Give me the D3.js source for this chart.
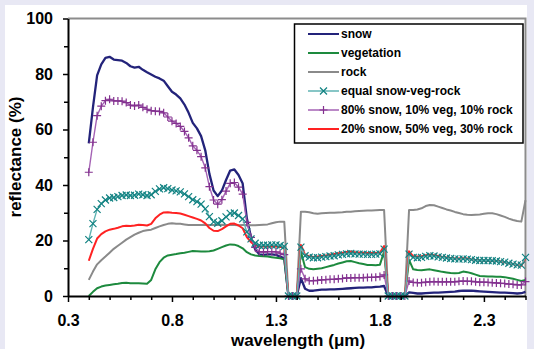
<!DOCTYPE html>
<html>
<head>
<meta charset="utf-8">
<script src="https://cdn.jsdelivr.net/npm/d3@7"></script>
<style>
  body { margin: 0; background: #fff; }
  svg { display: block; font-family: "Liberation Sans", Arial, sans-serif; }
</style>
</head>
<body>
<svg id="chart" width="534" height="349"></svg>
<script>
// wavelength grid (µm)
const wavelength = [
  0.40, 0.42, 0.44, 0.46, 0.48, 0.50, 0.52, 0.54, 0.56, 0.58,
  0.60, 0.62, 0.64, 0.66, 0.68, 0.70, 0.72, 0.74, 0.76, 0.78,
  0.80, 0.82, 0.84, 0.86, 0.88, 0.90, 0.92, 0.94, 0.96, 0.98,
  1.00, 1.02, 1.04, 1.06, 1.08, 1.10, 1.12, 1.14, 1.16, 1.18,
  1.20, 1.22, 1.24, 1.26, 1.28, 1.30, 1.32, 1.34, 1.36, 1.38,
  1.40, 1.42, 1.44, 1.46, 1.48, 1.50, 1.52, 1.54, 1.56, 1.58,
  1.60, 1.62, 1.64, 1.66, 1.68, 1.70, 1.72, 1.74, 1.76, 1.78,
  1.80, 1.82, 1.84, 1.86, 1.88, 1.90, 1.92, 1.94, 1.96, 1.98,
  2.00, 2.02, 2.04, 2.06, 2.08, 2.10, 2.12, 2.14, 2.16, 2.18,
  2.20, 2.22, 2.24, 2.26, 2.28, 2.30, 2.32, 2.34, 2.36, 2.38,
  2.40, 2.42, 2.44, 2.46, 2.48, 2.50
];

const snow = [
  55.0, 68.0, 79.5, 83.5, 85.8, 86.2, 85.2, 85.0, 84.8, 84.0,
  82.8, 82.3, 82.6, 81.5, 80.6, 79.8, 79.0, 78.4, 77.6, 75.6,
  73.6, 72.6, 71.2, 69.0, 66.0, 62.4, 60.4, 57.6, 52.5, 44.0,
  38.0, 36.0, 38.0, 41.8, 45.2, 45.6, 43.6, 40.5, 28.0, 21.2,
  16.8, 15.0, 14.8, 15.0, 15.0, 14.8, 14.2, 13.6, 0, 0,
  0, 6.4, 2.6, 1.9, 1.9, 2.1, 2.3, 2.3, 2.4, 2.4,
  2.5, 2.6, 2.7, 2.8, 2.9, 3.0, 3.0, 3.1, 3.1, 3.3,
  3.4, 3.6, 0, 0, 0, 0, 0, 1.3, 1.1, 0.9,
  0.9, 1.0, 1.1, 1.2, 1.2, 1.3, 1.4, 1.5, 1.6, 1.8,
  1.9, 1.9, 1.9, 1.8, 1.7, 1.6, 1.5, 1.4, 1.3, 1.2,
  1.2, 1.1, 1.0, 0.9, 1.0, 1.5
];

const vegetation = [
  0, 1.5, 2.8, 3.4, 3.8, 4.0, 4.2, 4.4, 4.7, 4.8,
  4.6, 4.6, 4.6, 4.5, 4.4, 5.8, 9.6, 12.2, 13.8, 14.6,
  14.9, 15.1, 15.4, 15.6, 15.9, 16.2, 16.1, 16.0, 16.0, 16.1,
  16.4, 17.0, 17.6, 18.2, 18.6, 18.5, 18.0, 17.2, 15.8, 15.0,
  14.6, 14.4, 14.3, 14.2, 14.0, 13.8, 13.6, 13.2, 0, 0,
  0, 16.0, 10.4, 9.8, 9.6, 9.8, 10.0, 10.4, 10.8, 11.2,
  11.7, 12.1, 12.5, 12.6, 12.2, 11.8, 11.5, 11.2, 11.2, 11.1,
  11.3, 16.0, 0, 0, 0, 0, 0, 13.0, 9.6, 9.4,
  9.3, 9.5, 9.6, 9.3, 9.0, 8.7, 8.5, 8.3, 8.2, 8.3,
  8.8, 8.6, 8.2, 7.7, 7.2, 7.1, 7.0, 7.0, 6.9, 6.9,
  6.8, 6.5, 6.2, 5.8, 5.4, 5.8
];

const rock = [
  5.8, 8.8, 11.4, 12.9, 14.2, 15.6, 17.0, 18.1, 19.2, 20.3,
  21.2, 22.1, 22.8, 23.4, 23.7, 23.9, 24.5, 25.1, 25.6, 26.0,
  26.2, 26.0, 26.0, 25.8, 25.6, 25.6, 25.6, 25.6, 25.7, 25.6,
  25.6, 25.6, 25.7, 25.6, 25.6, 25.6, 25.5, 25.6, 25.6, 25.5,
  25.5, 25.6, 25.7, 25.8, 26.2, 26.6, 26.8, 26.8, 0, 0,
  0, 30.4, 30.4, 30.2, 29.8, 29.6, 29.8, 29.9, 30.0, 30.0,
  30.1, 30.2, 30.4, 30.4, 30.5, 30.6, 30.7, 30.8, 30.8, 30.9,
  31.0, 31.0, 0, 0, 0, 0, 0, 31.0, 31.0, 31.2,
  31.6, 32.4, 32.8, 32.7, 32.2, 31.7, 31.2, 30.8, 30.3, 29.9,
  29.5, 29.3, 29.2, 29.3, 29.4, 29.6, 29.8, 29.8, 29.5, 29.0,
  28.5, 27.9, 27.4, 27.0, 26.8, 34.5
];

const equalMix = [
  20.3, 26.1, 31.2, 33.3, 34.6, 35.3, 35.5, 35.8, 36.2, 36.4,
  36.2, 36.3, 36.7, 36.5, 36.2, 36.5, 37.7, 38.6, 39.0, 38.7,
  38.2, 37.9, 37.5, 36.8, 35.8, 34.7, 34.0, 33.1, 31.4, 28.6,
  26.7, 26.2, 27.1, 28.5, 29.8, 29.9, 29.0, 27.8, 23.1, 20.6,
  19.0, 18.3, 18.3, 18.3, 18.4, 18.4, 18.2, 17.9, 0, 0,
  0, 17.6, 14.5, 14.0, 13.8, 13.8, 14.0, 14.2, 14.4, 14.5,
  14.8, 15.0, 15.2, 15.3, 15.2, 15.1, 15.1, 15.0, 15.0, 15.1,
  15.2, 16.9, 0, 0, 0, 0, 0, 15.1, 13.9, 13.8,
  13.9, 14.3, 14.5, 14.4, 14.1, 13.9, 13.7, 13.5, 13.4, 13.3,
  13.4, 13.3, 13.1, 12.9, 12.8, 12.8, 12.8, 12.7, 12.6, 12.4,
  12.2, 11.8, 11.5, 11.2, 11.1, 13.9
];

const mix80 = [
  44.6, 55.4, 65.0, 68.4, 70.4, 70.9, 70.3, 70.3, 70.2, 69.7,
  68.8, 68.5, 68.8, 68.0, 67.3, 66.8, 66.6, 66.5, 66.0, 64.5,
  63.0, 62.2, 61.1, 59.3, 57.0, 54.1, 52.5, 50.2, 46.2, 39.4,
  34.6, 33.1, 34.7, 37.8, 40.6, 40.9, 39.2, 36.7, 26.5, 21.1,
  17.5, 16.0, 15.8, 16.0, 16.0, 15.9, 15.4, 14.9, 0, 0,
  0, 9.8, 6.2, 5.5, 5.5, 5.6, 5.8, 5.9, 6.0, 6.0,
  6.2, 6.3, 6.5, 6.5, 6.6, 6.6, 6.6, 6.7, 6.7, 6.8,
  7.0, 7.6, 0, 0, 0, 0, 0, 5.4, 4.9, 4.8,
  4.8, 5.0, 5.1, 5.2, 5.1, 5.1, 5.1, 5.1, 5.1, 5.3,
  5.4, 5.3, 5.3, 5.1, 5.0, 5.0, 4.9, 4.8, 4.7, 4.6,
  4.5, 4.3, 4.2, 4.0, 4.0, 5.2
];

const mix20 = [
  12.7, 17.0, 20.7, 22.3, 23.3, 23.9, 24.2, 24.6, 25.1, 25.3,
  25.2, 25.4, 25.7, 25.6, 25.4, 26.0, 28.0, 29.3, 30.1, 30.2,
  30.0, 29.9, 29.7, 29.3, 28.8, 28.3, 27.8, 27.2, 26.2, 24.5,
  23.5, 23.4, 24.1, 25.1, 26.0, 26.1, 25.4, 24.4, 21.2, 19.4,
  18.3, 17.9, 17.8, 17.8, 17.9, 17.8, 17.7, 17.4, 0, 0,
  0, 18.4, 14.8, 14.3, 14.1, 14.2, 14.4, 14.6, 14.9, 15.1,
  15.4, 15.6, 15.9, 16.0, 15.8, 15.7, 15.6, 15.5, 15.5, 15.5,
  15.6, 18.0, 0, 0, 0, 0, 0, 16.1, 14.3, 14.2,
  14.3, 14.7, 14.9, 14.7, 14.4, 14.1, 13.9, 13.7, 13.5, 13.5,
  13.6, 13.5, 13.2, 13.0, 12.8, 12.8, 12.7, 12.7, 12.6, 12.4,
  12.2, 11.8, 11.5, 11.2, 10.9, 13.6
];

const seriesNames = [
  'snow', 'vegetation', 'rock', 'equal snow-veg-rock',
  '80% snow, 10% veg, 10% rock', '20% snow, 50% veg, 30% rock'
];

const xMajorTicks = [0.3, 0.8, 1.3, 1.8, 2.3];
const xMinorTicks = [0.4, 0.5, 0.6, 0.7, 0.9, 1.0, 1.1, 1.2, 1.4, 1.5, 1.6, 1.7, 1.9, 2.0, 2.1, 2.2, 2.4, 2.5];
const yMajorTicks = [0, 20, 40, 60, 80, 100];
const yMinorTicks = [10, 30, 50, 70, 90];

// series look, in legend order
const series = [
  { name: seriesNames[0], values: snow, color: '#23237a', width: 2.3 },
  { name: seriesNames[1], values: vegetation, color: '#1d8a3e', width: 2 },
  { name: seriesNames[2], values: rock, color: '#8a8a8a', width: 2 },
  { name: seriesNames[3], values: equalMix, color: '#5fb3b3', width: 1.4, marker: 'x', markerColor: '#128282' },
  { name: seriesNames[4], values: mix80, color: '#a462b4', width: 1.4, marker: 'plus', markerColor: '#83318f' },
  { name: seriesNames[5], values: mix20, color: '#ff2222', width: 2 }
];
// drawing order (red sits under the marker series)
const drawOrder = [0, 1, 2, 5, 4, 3];

const svg = d3.select('#chart');

// slide background edges
svg.append('rect').attr('width', 534).attr('height', 349).attr('fill', '#e8e8f4');
svg.append('rect').attr('x', 5).attr('y', 5).attr('width', 522).attr('height', 344).attr('fill', '#fff');

const x = d3.scaleLinear().domain([0.3, 2.5]).range([68, 525.5]);
const y = d3.scaleLinear().domain([0, 100]).range([296, 18.5]);

// plot area border (top & right)
svg.append('path')
  .attr('d', `M${x(0.3)},${y(100)}H${x(2.5)}V${y(0)}`)
  .attr('fill', 'none')
  .attr('stroke', '#8c8c8c')
  .attr('stroke-width', 2);

const markerPath = {
  x: 'M-3.5,-3.5L3.5,3.5M-3.5,3.5L3.5,-3.5',
  plus: 'M-4,0H4M0,-4V4'
};

const line = d3.line()
  .x((d, i) => x(wavelength[i]))
  .y(d => y(d));

const plot = svg.append('g');

drawOrder.forEach(k => {
  const s = series[k];
  plot.append('path')
    .datum(s.values)
    .attr('fill', 'none')
    .attr('stroke', s.color)
    .attr('stroke-width', s.width)
    .attr('stroke-linejoin', 'round')
    .attr('d', line);

  if (s.marker) {
    plot.selectAll(null)
      .data(s.values)
      .enter()
      .append('path')
      .attr('transform', (d, i) => `translate(${x(wavelength[i])},${y(d)})`)
      .attr('d', markerPath[s.marker])
      .attr('fill', 'none')
      .attr('stroke', s.markerColor)
      .attr('stroke-width', 1.2);
  }
});

// axes
const xMinor = svg.append('g')
  .attr('transform', `translate(0,${y(0)})`)
  .call(d3.axisBottom(x).tickValues(xMinorTicks).tickSize(4).tickSizeOuter(0).tickFormat(''));
xMinor.select('.domain').remove();

const xAxis = svg.append('g')
  .attr('transform', `translate(0,${y(0)})`)
  .call(d3.axisBottom(x).tickValues(xMajorTicks).tickSize(6).tickSizeOuter(0)
    .tickPadding(13).tickFormat(d3.format('.1f')));

const yMinor = svg.append('g')
  .attr('transform', `translate(${x(0.3)},0)`)
  .call(d3.axisLeft(y).tickValues(yMinorTicks).tickSize(4).tickSizeOuter(0).tickFormat(''));
yMinor.select('.domain').remove();

const yAxis = svg.append('g')
  .attr('transform', `translate(${x(0.3)},0)`)
  .call(d3.axisLeft(y).tickValues(yMajorTicks).tickSize(5).tickSizeOuter(0).tickPadding(10));

svg.selectAll('.tick line').attr('stroke', '#000').attr('stroke-width', 1.5);
svg.selectAll('.domain').attr('stroke', '#000').attr('stroke-width', 2);
svg.selectAll('.tick text')
  .attr('fill', '#000')
  .style('font-family', '"Liberation Sans", Arial, sans-serif')
  .style('font-size', '16px')
  .style('font-weight', 'bold');

// axis titles
svg.append('text')
  .attr('x', 298)
  .attr('y', 345.5)
  .attr('text-anchor', 'middle')
  .style('font-size', '17px')
  .style('font-weight', 'bold')
  .text('wavelength (μm)');

svg.append('text')
  .attr('transform', 'translate(21,157) rotate(-90)')
  .attr('text-anchor', 'middle')
  .style('font-size', '17px')
  .style('font-weight', 'bold')
  .text('reflectance (%)');

// legend
const legend = svg.append('g');
legend.append('rect')
  .attr('x', 294.5)
  .attr('y', 24)
  .attr('width', 228.5)
  .attr('height', 119)
  .attr('fill', '#fff')
  .attr('stroke', '#000')
  .attr('stroke-width', 1.5);

series.forEach((s, i) => {
  const cy = 34 + i * 19;
  legend.append('line')
    .attr('x1', 308).attr('x2', 339)
    .attr('y1', cy).attr('y2', cy)
    .attr('stroke', s.color)
    .attr('stroke-width', s.marker ? 1.5 : 2);
  if (s.marker) {
    legend.append('path')
      .attr('transform', `translate(323.5,${cy})`)
      .attr('d', markerPath[s.marker])
      .attr('fill', 'none')
      .attr('stroke', s.markerColor)
      .attr('stroke-width', 1.2);
  }
  legend.append('text')
    .attr('x', 341)
    .attr('y', cy)
    .attr('dy', '0.36em')
    .style('font-size', '12px')
    .style('font-weight', 'bold')
    .text(s.name);
});
</script>
</body>
</html>
